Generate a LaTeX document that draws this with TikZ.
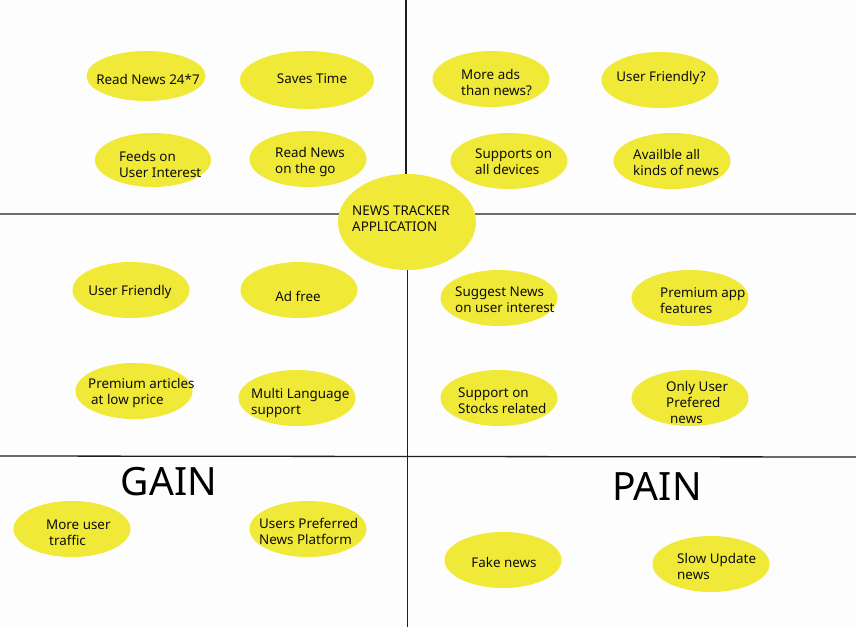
\documentclass[tikz,border=0pt]{standalone}
\usepackage{fontspec}
\setmainfont{Noto Sans}
\usetikzlibrary{shapes.geometric}
\definecolor{bubyel}{RGB}{240,233,56}
\definecolor{bg}{RGB}{253,253,253}
\definecolor{grayline}{RGB}{110,110,110}
\definecolor{darkline}{RGB}{30,30,30}
\begin{document}
\begin{tikzpicture}[x=1pt,y=-1pt,
  bub/.style={ellipse,fill=bubyel,draw=none,inner sep=0pt,minimum width=117pt,minimum height=56pt},
  txt/.style={inner sep=0pt,align=left,font=\fontsize{13.4}{16}\selectfont,text=black!95},
  big/.style={inner sep=0pt,font=\fontsize{39}{44}\selectfont,text=black},
  divider/.style={line width=1.3pt}]
\fill[bg] (0,0) rectangle (856,627);
\useasboundingbox (0,0) rectangle (856,627);
% quadrant lines
\coordinate (vt) at (406,0);
\coordinate (vm) at (406,222);
\coordinate (hl) at (0,214);
\coordinate (hr) at (856,214);
\coordinate (vm2) at (407.5,222);
\coordinate (vb) at (407.5,627);
\coordinate (bl) at (0,456);
\coordinate (br) at (856,457);
\draw[divider,darkline] (vt) -- (vm);
\draw[divider,grayline] (hl) -- (hr);
\draw[divider,darkline] (vm2) -- (vb);
\draw[divider,darkline] (bl) -- (br);
% center
\node[bub,minimum width=138pt,minimum height=96pt] (app) at (407,222) {};
\node[txt,anchor=west] (appt) at (352,219) {NEWS TRACKER\\APPLICATION};
% top-left
\node[bub,minimum width=119pt,minimum height=50pt] (e1) at (146,76) {};
\node[txt] (t1) at (148,79) {Read News 24*7};
\node[bub,minimum width=134pt,minimum height=58pt] (e2) at (307,80) {};
\node[txt] (t2) at (312,79) {Saves Time};
\node[bub,minimum width=116pt,minimum height=54pt] (e3) at (153,160) {};
\node[txt,anchor=west] (t3) at (119,164) {Feeds on\\User Interest};
\node[bub,minimum width=117pt,minimum height=56pt] (e4) at (308,159) {};
\node[txt] (t4) at (310,162) {Read News\\on the go};
% top-right
\node[bub] (e5) at (491,79) {};
\node[txt,anchor=west] (t5) at (461,82) {More ads\\than news?};
\node[bub] (e6) at (660,80) {};
\node[txt] (t6) at (661,78) {User Friendly?};
\node[bub] (e7) at (509,161) {};
\node[txt,anchor=west] (t7) at (475,162) {Supports on\\all devices};
\node[bub] (e8) at (672,161) {};
\node[txt,anchor=west] (t8) at (633,162) {Availble all\\kinds of news};
% middle-left
\node[bub] (e9) at (131,290) {};
\node[txt] (t9) at (130,292) {User Friendly};
\node[bub] (e10) at (299,290) {};
\node[txt] (t10) at (298,296) {Ad free};
\node[bub] (e11) at (134,391) {};
\node[txt,anchor=west] (t11) at (88,393) {Premium articles\\\hspace*{3pt}at low price};
\node[bub] (e12) at (297,398) {};
\node[txt,anchor=west] (t12) at (251,403) {Multi Language\\support};
% middle-right
\node[bub] (e13) at (499,298) {};
\node[txt,anchor=west] (t13) at (455,300) {Suggest News\\on user interest};
\node[bub] (e14) at (690,298) {};
\node[txt,anchor=west] (t14) at (660,301) {Premium app\\features};
\node[bub] (e15) at (499,398) {};
\node[txt,anchor=west] (t15) at (458,401) {Support on\\Stocks related};
\node[bub] (e16) at (690,398) {};
\node[txt,anchor=west] (t16) at (666,402) {Only User\\Prefered\\\hspace*{4pt}news};
% bottom
\node[big] (gain) at (169,482) {GAIN};
\node[big] (pain) at (657,487) {PAIN};
\node[bub] (e17) at (72,529) {};
\node[txt,anchor=west] (t17) at (46,533) {More user\\\hspace*{3pt}traffic};
\node[bub] (e18) at (308,529) {};
\node[txt,anchor=west] (t18) at (259,531) {Users Preferred\\News Platform};
\node[bub] (e19) at (503,560) {};
\node[txt] (t19) at (504,562) {Fake news};
\node[bub] (e20) at (711,564) {};
\node[txt,anchor=west] (t20) at (677,566) {Slow Update\\news};
\end{tikzpicture}
\end{document}
